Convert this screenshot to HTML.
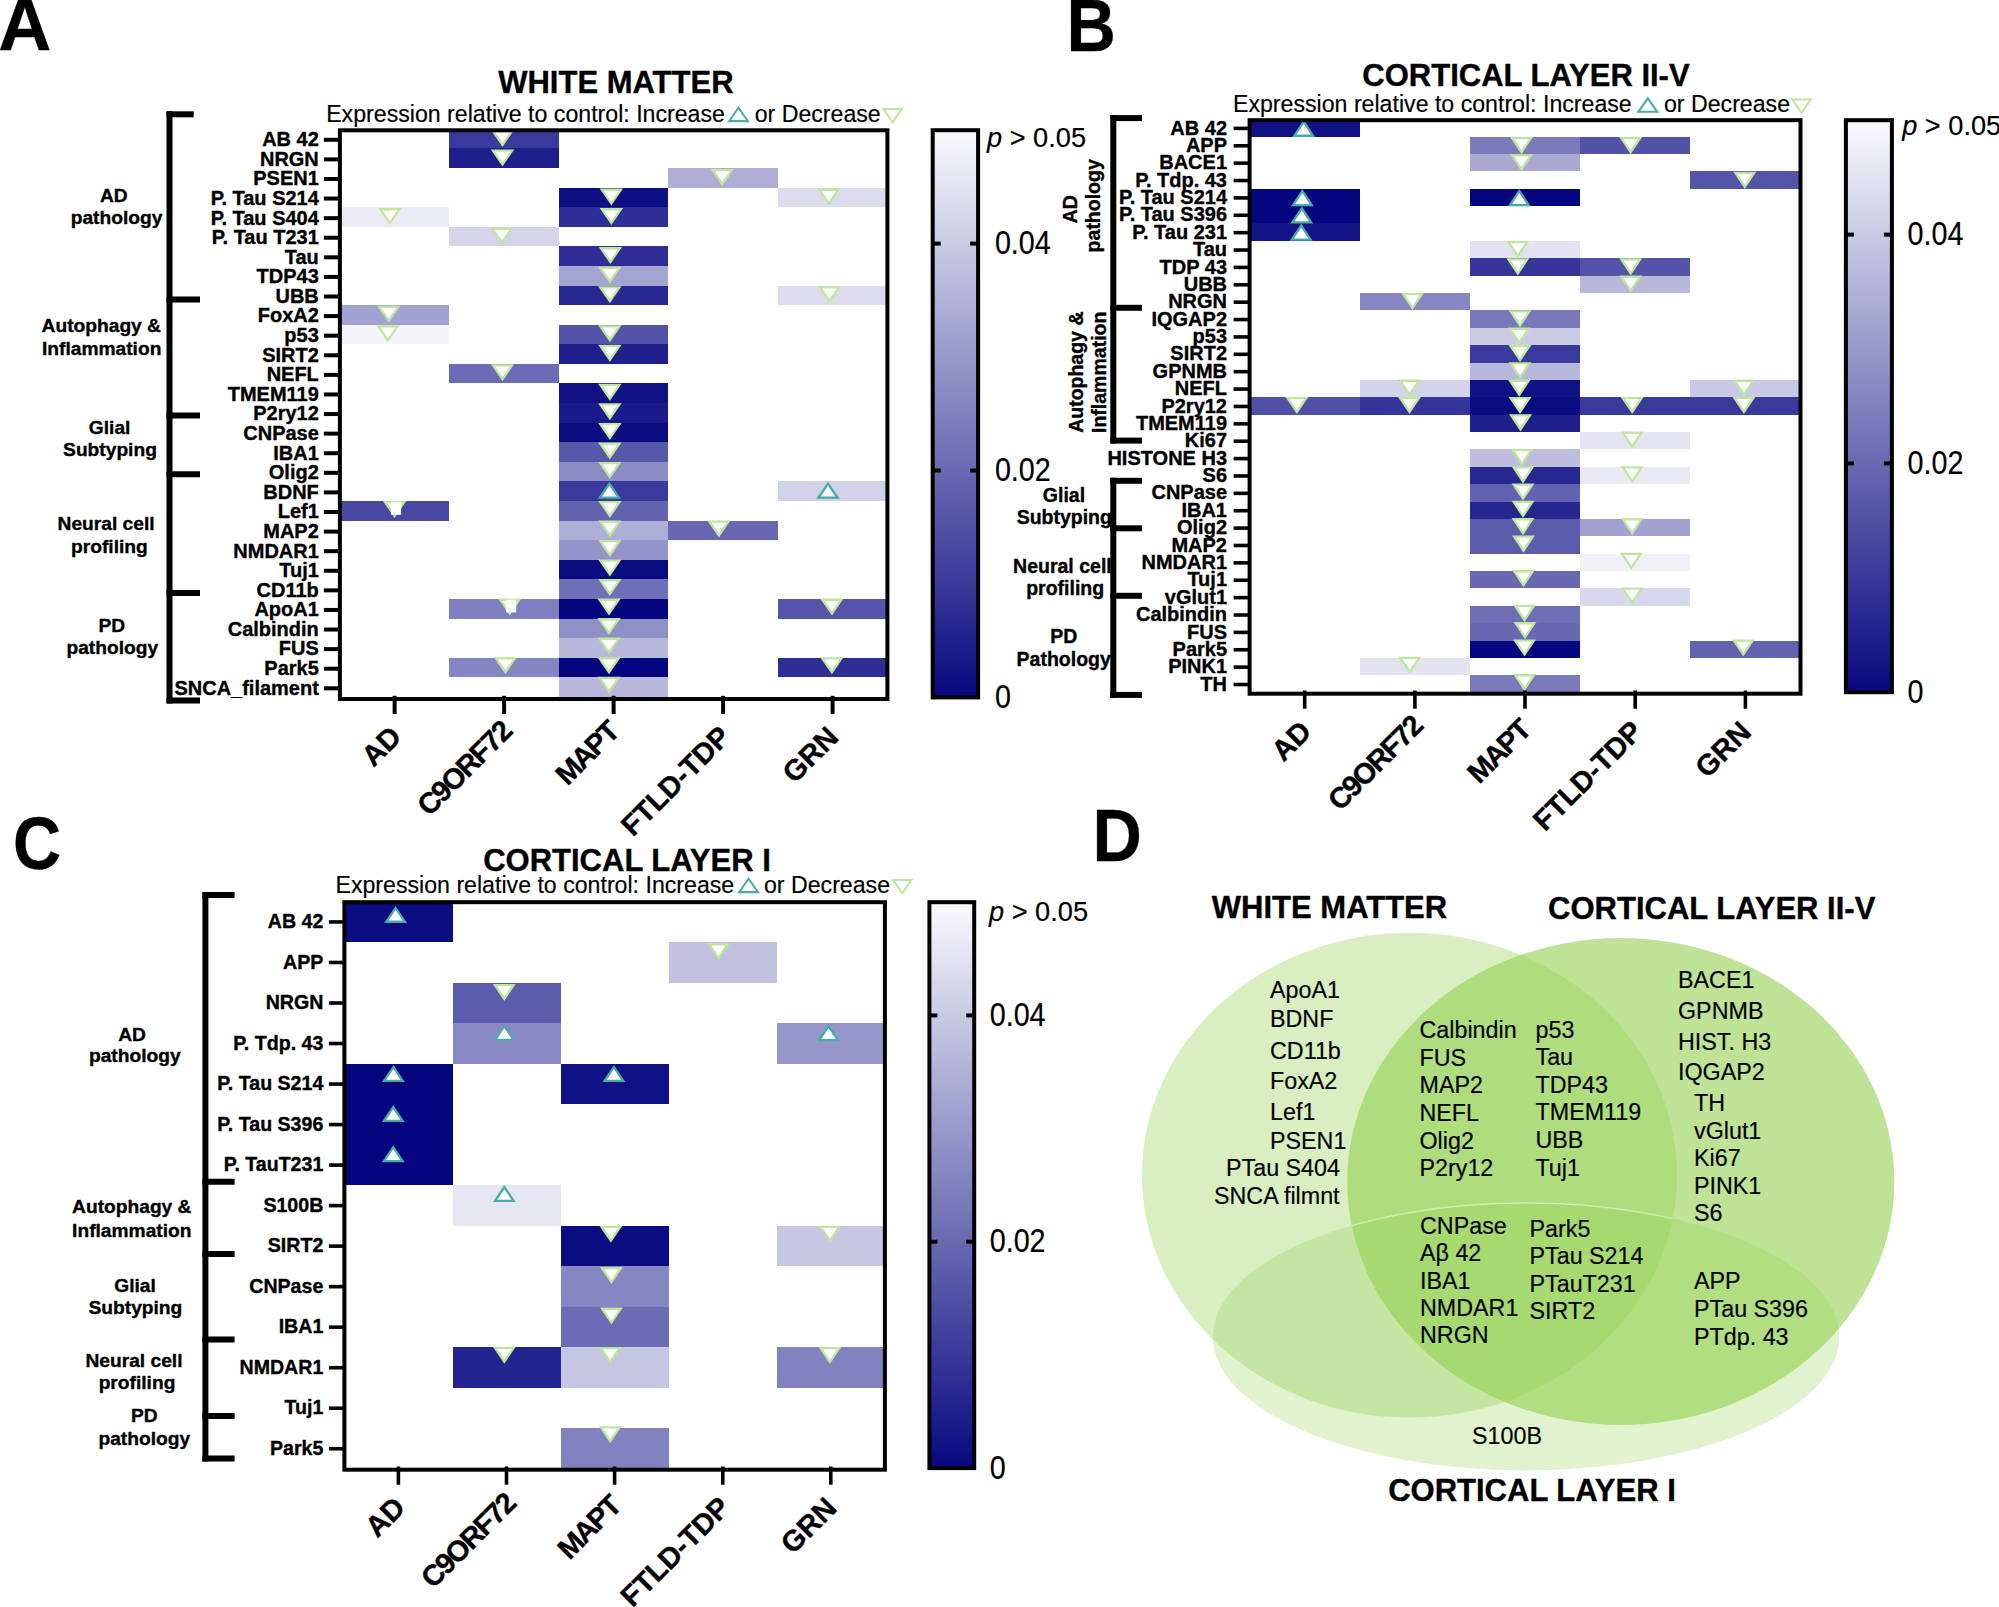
<!DOCTYPE html>
<html lang="en"><head><meta charset="utf-8"><title>Figure</title>
<style>html,body{margin:0;padding:0;background:#fff}svg{display:block}text{font-family:'Liberation Sans', Arial, sans-serif;fill:#000;stroke:#000;stroke-width:.18px;stroke-linejoin:round}text[font-weight=bold]{stroke-width:.36px}</style></head><body>
<svg width="1999" height="1607" viewBox="0 0 1999 1607">
<defs><linearGradient id="cm" x1="0" y1="0" x2="0" y2="1"><stop offset="0" stop-color="#fafafd"/><stop offset="1" stop-color="#080880"/></linearGradient></defs>
<rect width="1999" height="1607" fill="#fff"/>
<g>
<rect x="449.40" y="128.80" width="109.50" height="19.59" fill="#3a3a9c" shape-rendering="crispEdges"/>
<rect x="449.40" y="148.39" width="109.50" height="19.59" fill="#1f1f8b" shape-rendering="crispEdges"/>
<rect x="668.40" y="167.98" width="109.50" height="19.59" fill="#adadd6" shape-rendering="crispEdges"/>
<rect x="558.90" y="187.57" width="109.50" height="19.59" fill="#0f0f85" shape-rendering="crispEdges"/>
<rect x="777.90" y="187.57" width="109.50" height="19.59" fill="#dcdcee" shape-rendering="crispEdges"/>
<rect x="339.90" y="207.16" width="109.50" height="19.59" fill="#ebebf6" shape-rendering="crispEdges"/>
<rect x="558.90" y="207.16" width="109.50" height="19.59" fill="#2e2e96" shape-rendering="crispEdges"/>
<rect x="449.40" y="226.75" width="109.50" height="19.59" fill="#d5d5ea" shape-rendering="crispEdges"/>
<rect x="558.90" y="246.34" width="109.50" height="19.59" fill="#2e2e96" shape-rendering="crispEdges"/>
<rect x="558.90" y="265.93" width="109.50" height="19.59" fill="#a5a5d3" shape-rendering="crispEdges"/>
<rect x="558.90" y="285.52" width="109.50" height="19.59" fill="#282892" shape-rendering="crispEdges"/>
<rect x="777.90" y="285.52" width="109.50" height="19.59" fill="#dcdcee" shape-rendering="crispEdges"/>
<rect x="339.90" y="305.11" width="109.50" height="19.59" fill="#a2a2d2" shape-rendering="crispEdges"/>
<rect x="339.90" y="324.70" width="109.50" height="19.59" fill="#f4f4fa" shape-rendering="crispEdges"/>
<rect x="558.90" y="324.70" width="109.50" height="19.59" fill="#5353a8" shape-rendering="crispEdges"/>
<rect x="558.90" y="344.29" width="109.50" height="19.59" fill="#1f1f8b" shape-rendering="crispEdges"/>
<rect x="449.40" y="363.88" width="109.50" height="19.59" fill="#6c6cb6" shape-rendering="crispEdges"/>
<rect x="558.90" y="383.47" width="109.50" height="19.59" fill="#111186" shape-rendering="crispEdges"/>
<rect x="558.90" y="403.06" width="109.50" height="19.59" fill="#1a1a8c" shape-rendering="crispEdges"/>
<rect x="558.90" y="422.64" width="109.50" height="19.59" fill="#0b0b82" shape-rendering="crispEdges"/>
<rect x="558.90" y="442.23" width="109.50" height="19.59" fill="#5858ab" shape-rendering="crispEdges"/>
<rect x="558.90" y="461.82" width="109.50" height="19.59" fill="#8b8bc5" shape-rendering="crispEdges"/>
<rect x="558.90" y="481.41" width="109.50" height="19.59" fill="#3a3a9c" shape-rendering="crispEdges"/>
<rect x="777.90" y="481.41" width="109.50" height="19.59" fill="#d2d2ea" shape-rendering="crispEdges"/>
<rect x="339.90" y="501.00" width="109.50" height="19.59" fill="#4848a3" shape-rendering="crispEdges"/>
<rect x="558.90" y="501.00" width="109.50" height="19.59" fill="#6262b1" shape-rendering="crispEdges"/>
<rect x="558.90" y="520.59" width="109.50" height="19.59" fill="#aeaed6" shape-rendering="crispEdges"/>
<rect x="668.40" y="520.59" width="109.50" height="19.59" fill="#6767b3" shape-rendering="crispEdges"/>
<rect x="558.90" y="540.18" width="109.50" height="19.59" fill="#9494ca" shape-rendering="crispEdges"/>
<rect x="558.90" y="559.77" width="109.50" height="19.59" fill="#0b0b82" shape-rendering="crispEdges"/>
<rect x="558.90" y="579.36" width="109.50" height="19.59" fill="#7070b8" shape-rendering="crispEdges"/>
<rect x="449.40" y="598.95" width="109.50" height="19.59" fill="#8080c0" shape-rendering="crispEdges"/>
<rect x="558.90" y="598.95" width="109.50" height="19.59" fill="#050580" shape-rendering="crispEdges"/>
<rect x="777.90" y="598.95" width="109.50" height="19.59" fill="#5454a9" shape-rendering="crispEdges"/>
<rect x="558.90" y="618.54" width="109.50" height="19.59" fill="#9090c8" shape-rendering="crispEdges"/>
<rect x="558.90" y="638.13" width="109.50" height="19.59" fill="#b8b8dc" shape-rendering="crispEdges"/>
<rect x="449.40" y="657.72" width="109.50" height="19.59" fill="#8585c3" shape-rendering="crispEdges"/>
<rect x="558.90" y="657.72" width="109.50" height="19.59" fill="#050580" shape-rendering="crispEdges"/>
<rect x="777.90" y="657.72" width="109.50" height="19.59" fill="#2e2e96" shape-rendering="crispEdges"/>
<rect x="558.90" y="677.31" width="109.50" height="19.59" fill="#b8b8dc" shape-rendering="crispEdges"/>
<polygon points="490.8,130.0 514.2,130.0 502.5,147.0" fill="#c0e69d"/><polygon points="495.2,132.3 509.9,132.3 502.5,142.9" fill="#fff"/>
<polygon points="490.8,149.5 514.2,149.5 502.5,166.5" fill="#c0e69d"/><polygon points="495.2,151.8 509.9,151.8 502.5,162.5" fill="#fff"/>
<polygon points="710.5,169.0 734.0,169.0 722.2,186.0" fill="#c0e69d"/><polygon points="714.9,171.3 729.6,171.3 722.2,182.0" fill="#fff"/>
<polygon points="599.6,188.6 623.1,188.6 611.4,205.6" fill="#c0e69d"/><polygon points="604.0,190.9 618.7,190.9 611.4,201.5" fill="#fff"/>
<polygon points="817.2,188.6 840.6,188.6 828.9,205.6" fill="#c0e69d"/><polygon points="821.6,190.9 836.3,190.9 828.9,201.5" fill="#fff"/>
<polygon points="378.2,208.1 401.6,208.1 389.9,225.1" fill="#c0e69d"/><polygon points="382.6,210.4 397.3,210.4 389.9,221.0" fill="#fff"/>
<polygon points="599.6,208.1 623.1,208.1 611.4,225.1" fill="#c0e69d"/><polygon points="604.0,210.4 618.7,210.4 611.4,221.0" fill="#fff"/>
<polygon points="490.2,227.6 513.6,227.6 501.9,244.6" fill="#c0e69d"/><polygon points="494.6,229.9 509.3,229.9 501.9,240.6" fill="#fff"/>
<polygon points="598.7,247.1 622.1,247.1 610.4,264.1" fill="#c0e69d"/><polygon points="603.1,249.4 617.8,249.4 610.4,260.1" fill="#fff"/>
<polygon points="598.1,266.7 621.6,266.7 609.9,283.7" fill="#c0e69d"/><polygon points="602.5,269.0 617.2,269.0 609.9,279.6" fill="#fff"/>
<polygon points="598.1,286.2 621.6,286.2 609.9,303.2" fill="#c0e69d"/><polygon points="602.5,288.5 617.2,288.5 609.9,299.1" fill="#fff"/>
<polygon points="817.8,286.2 841.2,286.2 829.5,303.2" fill="#c0e69d"/><polygon points="822.2,288.5 836.9,288.5 829.5,299.1" fill="#fff"/>
<polygon points="377.1,305.7 400.4,305.7 388.8,322.7" fill="#c0e69d"/><polygon points="381.4,308.0 396.1,308.0 388.8,318.7" fill="#fff"/>
<polygon points="376.2,325.2 399.6,325.2 387.9,342.2" fill="#c0e69d"/><polygon points="380.6,327.5 395.3,327.5 387.9,338.2" fill="#fff"/>
<polygon points="598.1,325.2 621.6,325.2 609.9,342.2" fill="#c0e69d"/><polygon points="602.5,327.5 617.2,327.5 609.9,338.2" fill="#fff"/>
<polygon points="598.1,344.8 621.6,344.8 609.9,361.8" fill="#c0e69d"/><polygon points="602.5,347.1 617.2,347.1 609.9,357.7" fill="#fff"/>
<polygon points="490.8,364.3 514.2,364.3 502.5,381.3" fill="#c0e69d"/><polygon points="495.2,366.6 509.9,366.6 502.5,377.2" fill="#fff"/>
<polygon points="598.1,383.8 621.6,383.8 609.9,400.8" fill="#c0e69d"/><polygon points="602.5,386.1 617.2,386.1 609.9,396.8" fill="#fff"/>
<polygon points="598.1,403.3 621.6,403.3 609.9,420.3" fill="#c0e69d"/><polygon points="602.5,405.6 617.2,405.6 609.9,416.3" fill="#fff"/>
<polygon points="598.1,422.9 621.6,422.9 609.9,439.9" fill="#c0e69d"/><polygon points="602.5,425.2 617.2,425.2 609.9,435.8" fill="#fff"/>
<polygon points="598.1,442.4 621.6,442.4 609.9,459.4" fill="#c0e69d"/><polygon points="602.5,444.7 617.2,444.7 609.9,455.3" fill="#fff"/>
<polygon points="598.1,461.9 621.6,461.9 609.9,478.9" fill="#c0e69d"/><polygon points="602.5,464.2 617.2,464.2 609.9,474.9" fill="#fff"/>
<polygon points="597.6,498.7 621.1,498.7 609.4,481.7" fill="#47ada4"/><polygon points="602.0,496.4 616.7,496.4 609.4,485.8" fill="#fff"/>
<polygon points="816.3,498.7 839.8,498.7 828.0,481.7" fill="#47ada4"/><polygon points="820.7,496.4 835.4,496.4 828.0,485.8" fill="#fff"/>
<polygon points="382.9,501.0 406.3,501.0 394.6,518.0" fill="#c0e69d"/><polygon points="387.3,503.3 402.0,503.3 394.6,513.9" fill="#fff"/>
<rect x="391.1" y="502.2" width="10" height="12.6" fill="#fff"/>
<polygon points="598.1,501.0 621.6,501.0 609.9,518.0" fill="#c0e69d"/><polygon points="602.5,503.3 617.2,503.3 609.9,513.9" fill="#fff"/>
<polygon points="598.1,520.5 621.6,520.5 609.9,537.5" fill="#c0e69d"/><polygon points="602.5,522.8 617.2,522.8 609.9,533.4" fill="#fff"/>
<polygon points="707.1,520.5 730.6,520.5 718.9,537.5" fill="#c0e69d"/><polygon points="711.5,522.8 726.2,522.8 718.9,533.4" fill="#fff"/>
<polygon points="598.1,540.0 621.6,540.0 609.9,557.0" fill="#c0e69d"/><polygon points="602.5,542.3 617.2,542.3 609.9,553.0" fill="#fff"/>
<polygon points="598.1,559.5 621.6,559.5 609.9,576.5" fill="#c0e69d"/><polygon points="602.5,561.8 617.2,561.8 609.9,572.5" fill="#fff"/>
<polygon points="598.1,579.1 621.6,579.1 609.9,596.1" fill="#c0e69d"/><polygon points="602.5,581.4 617.2,581.4 609.9,592.0" fill="#fff"/>
<polygon points="498.1,598.6 521.5,598.6 509.8,615.6" fill="#c0e69d"/><polygon points="502.4,600.9 517.1,600.9 509.8,611.5" fill="#fff"/>
<rect x="506.2" y="599.8" width="10" height="12.6" fill="#fff"/>
<polygon points="597.3,598.6 620.8,598.6 609.0,615.6" fill="#c0e69d"/><polygon points="601.7,600.9 616.4,600.9 609.0,611.5" fill="#fff"/>
<polygon points="820.1,598.6 843.6,598.6 831.9,615.6" fill="#c0e69d"/><polygon points="824.5,600.9 839.2,600.9 831.9,611.5" fill="#fff"/>
<polygon points="597.3,618.1 620.8,618.1 609.0,635.1" fill="#c0e69d"/><polygon points="601.7,620.4 616.4,620.4 609.0,631.1" fill="#fff"/>
<polygon points="597.3,637.6 620.8,637.6 609.0,654.6" fill="#c0e69d"/><polygon points="601.7,639.9 616.4,639.9 609.0,650.6" fill="#fff"/>
<polygon points="493.8,657.2 517.1,657.2 505.4,674.2" fill="#c0e69d"/><polygon points="498.1,659.5 512.8,659.5 505.4,670.1" fill="#fff"/>
<polygon points="597.3,657.2 620.8,657.2 609.0,674.2" fill="#c0e69d"/><polygon points="601.7,659.5 616.4,659.5 609.0,670.1" fill="#fff"/>
<polygon points="820.1,657.2 843.6,657.2 831.9,674.2" fill="#c0e69d"/><polygon points="824.5,659.5 839.2,659.5 831.9,670.1" fill="#fff"/>
<polygon points="597.3,676.7 620.8,676.7 609.0,693.7" fill="#c0e69d"/><polygon points="601.7,679.0 616.4,679.0 609.0,689.6" fill="#fff"/>
<rect x="339.9" y="130.3" width="547.5" height="568.7" fill="none" stroke="#000" stroke-width="4"/>
<line x1="323.9" y1="139.79" x2="339.9" y2="139.79" stroke="#000" stroke-width="4"/>
<text transform="translate(318.8,146.1) scale(1,1.045)" font-size="20" font-weight="bold" text-anchor="end">AB 42</text>
<line x1="323.9" y1="159.38" x2="339.9" y2="159.38" stroke="#000" stroke-width="4"/>
<text transform="translate(318.8,165.7) scale(1,1.045)" font-size="20" font-weight="bold" text-anchor="end">NRGN</text>
<line x1="323.9" y1="178.97" x2="339.9" y2="178.97" stroke="#000" stroke-width="4"/>
<text transform="translate(318.8,185.3) scale(1,1.045)" font-size="20" font-weight="bold" text-anchor="end">PSEN1</text>
<line x1="323.9" y1="198.56" x2="339.9" y2="198.56" stroke="#000" stroke-width="4"/>
<text transform="translate(318.8,204.9) scale(1,1.045)" font-size="20" font-weight="bold" text-anchor="end">P. Tau S214</text>
<line x1="323.9" y1="218.15" x2="339.9" y2="218.15" stroke="#000" stroke-width="4"/>
<text transform="translate(318.8,224.5) scale(1,1.045)" font-size="20" font-weight="bold" text-anchor="end">P. Tau S404</text>
<line x1="323.9" y1="237.74" x2="339.9" y2="237.74" stroke="#000" stroke-width="4"/>
<text transform="translate(318.8,244.0) scale(1,1.045)" font-size="20" font-weight="bold" text-anchor="end">P. Tau T231</text>
<line x1="323.9" y1="257.33" x2="339.9" y2="257.33" stroke="#000" stroke-width="4"/>
<text transform="translate(318.8,263.6) scale(1,1.045)" font-size="20" font-weight="bold" text-anchor="end">Tau</text>
<line x1="323.9" y1="276.92" x2="339.9" y2="276.92" stroke="#000" stroke-width="4"/>
<text transform="translate(318.8,283.2) scale(1,1.045)" font-size="20" font-weight="bold" text-anchor="end">TDP43</text>
<line x1="323.9" y1="296.51" x2="339.9" y2="296.51" stroke="#000" stroke-width="4"/>
<text transform="translate(318.8,302.8) scale(1,1.045)" font-size="20" font-weight="bold" text-anchor="end">UBB</text>
<line x1="323.9" y1="316.10" x2="339.9" y2="316.10" stroke="#000" stroke-width="4"/>
<text transform="translate(318.8,322.4) scale(1,1.045)" font-size="20" font-weight="bold" text-anchor="end">FoxA2</text>
<line x1="323.9" y1="335.69" x2="339.9" y2="335.69" stroke="#000" stroke-width="4"/>
<text transform="translate(318.8,342.0) scale(1,1.045)" font-size="20" font-weight="bold" text-anchor="end">p53</text>
<line x1="323.9" y1="355.28" x2="339.9" y2="355.28" stroke="#000" stroke-width="4"/>
<text transform="translate(318.8,361.6) scale(1,1.045)" font-size="20" font-weight="bold" text-anchor="end">SIRT2</text>
<line x1="323.9" y1="374.87" x2="339.9" y2="374.87" stroke="#000" stroke-width="4"/>
<text transform="translate(318.8,381.2) scale(1,1.045)" font-size="20" font-weight="bold" text-anchor="end">NEFL</text>
<line x1="323.9" y1="394.46" x2="339.9" y2="394.46" stroke="#000" stroke-width="4"/>
<text transform="translate(318.8,400.8) scale(1,1.045)" font-size="20" font-weight="bold" text-anchor="end">TMEM119</text>
<line x1="323.9" y1="414.05" x2="339.9" y2="414.05" stroke="#000" stroke-width="4"/>
<text transform="translate(318.8,420.3) scale(1,1.045)" font-size="20" font-weight="bold" text-anchor="end">P2ry12</text>
<line x1="323.9" y1="433.64" x2="339.9" y2="433.64" stroke="#000" stroke-width="4"/>
<text transform="translate(318.8,439.9) scale(1,1.045)" font-size="20" font-weight="bold" text-anchor="end">CNPase</text>
<line x1="323.9" y1="453.23" x2="339.9" y2="453.23" stroke="#000" stroke-width="4"/>
<text transform="translate(318.8,459.5) scale(1,1.045)" font-size="20" font-weight="bold" text-anchor="end">IBA1</text>
<line x1="323.9" y1="472.82" x2="339.9" y2="472.82" stroke="#000" stroke-width="4"/>
<text transform="translate(318.8,479.1) scale(1,1.045)" font-size="20" font-weight="bold" text-anchor="end">Olig2</text>
<line x1="323.9" y1="492.41" x2="339.9" y2="492.41" stroke="#000" stroke-width="4"/>
<text transform="translate(318.8,498.7) scale(1,1.045)" font-size="20" font-weight="bold" text-anchor="end">BDNF</text>
<line x1="323.9" y1="512.00" x2="339.9" y2="512.00" stroke="#000" stroke-width="4"/>
<text transform="translate(318.8,518.3) scale(1,1.045)" font-size="20" font-weight="bold" text-anchor="end">Lef1</text>
<line x1="323.9" y1="531.59" x2="339.9" y2="531.59" stroke="#000" stroke-width="4"/>
<text transform="translate(318.8,537.9) scale(1,1.045)" font-size="20" font-weight="bold" text-anchor="end">MAP2</text>
<line x1="323.9" y1="551.18" x2="339.9" y2="551.18" stroke="#000" stroke-width="4"/>
<text transform="translate(318.8,557.5) scale(1,1.045)" font-size="20" font-weight="bold" text-anchor="end">NMDAR1</text>
<line x1="323.9" y1="570.77" x2="339.9" y2="570.77" stroke="#000" stroke-width="4"/>
<text transform="translate(318.8,577.1) scale(1,1.045)" font-size="20" font-weight="bold" text-anchor="end">Tuj1</text>
<line x1="323.9" y1="590.36" x2="339.9" y2="590.36" stroke="#000" stroke-width="4"/>
<text transform="translate(318.8,596.7) scale(1,1.045)" font-size="20" font-weight="bold" text-anchor="end">CD11b</text>
<line x1="323.9" y1="609.95" x2="339.9" y2="609.95" stroke="#000" stroke-width="4"/>
<text transform="translate(318.8,616.2) scale(1,1.045)" font-size="20" font-weight="bold" text-anchor="end">ApoA1</text>
<line x1="323.9" y1="629.54" x2="339.9" y2="629.54" stroke="#000" stroke-width="4"/>
<text transform="translate(318.8,635.8) scale(1,1.045)" font-size="20" font-weight="bold" text-anchor="end">Calbindin</text>
<line x1="323.9" y1="649.13" x2="339.9" y2="649.13" stroke="#000" stroke-width="4"/>
<text transform="translate(318.8,655.4) scale(1,1.045)" font-size="20" font-weight="bold" text-anchor="end">FUS</text>
<line x1="323.9" y1="668.72" x2="339.9" y2="668.72" stroke="#000" stroke-width="4"/>
<text transform="translate(318.8,675.0) scale(1,1.045)" font-size="20" font-weight="bold" text-anchor="end">Park5</text>
<line x1="323.9" y1="688.31" x2="339.9" y2="688.31" stroke="#000" stroke-width="4"/>
<text transform="translate(318.8,694.6) scale(1,1.045)" font-size="20" font-weight="bold" text-anchor="end">SNCA_filament</text>
<line x1="394.6" y1="695.8" x2="394.6" y2="714.0" stroke="#000" stroke-width="4"/>
<text transform="translate(403.0,738.5) rotate(-45)" font-size="29" font-weight="bold" text-anchor="end" letter-spacing="0">AD</text>
<line x1="504.1" y1="695.8" x2="504.1" y2="714.0" stroke="#000" stroke-width="4"/>
<text transform="translate(513.1,733.4) rotate(-45)" font-size="29" font-weight="bold" text-anchor="end" letter-spacing="-1.7">C9ORF72</text>
<line x1="613.6" y1="695.8" x2="613.6" y2="714.0" stroke="#000" stroke-width="4"/>
<text transform="translate(620.1,733.8) rotate(-45)" font-size="29" font-weight="bold" text-anchor="end" letter-spacing="-1.9">MAPT</text>
<line x1="723.1" y1="695.8" x2="723.1" y2="714.0" stroke="#000" stroke-width="4"/>
<text transform="translate(732.0,738.5) rotate(-45)" font-size="29" font-weight="bold" text-anchor="end" letter-spacing="-0.2">FTLD-TDP</text>
<line x1="832.6" y1="695.8" x2="832.6" y2="714.0" stroke="#000" stroke-width="4"/>
<text transform="translate(840.1,739.0) rotate(-45)" font-size="29" font-weight="bold" text-anchor="end" letter-spacing="0">GRN</text>
<line x1="169.5" y1="111.3" x2="169.5" y2="703.5" stroke="#000" stroke-width="6"/>
<line x1="166.5" y1="114.3" x2="193.7" y2="114.3" stroke="#000" stroke-width="6"/>
<line x1="166.5" y1="299.5" x2="200.0" y2="299.5" stroke="#000" stroke-width="6"/>
<line x1="166.5" y1="415.6" x2="200.0" y2="415.6" stroke="#000" stroke-width="6"/>
<line x1="166.5" y1="474.2" x2="200.0" y2="474.2" stroke="#000" stroke-width="6"/>
<line x1="166.5" y1="593.1" x2="200.0" y2="593.1" stroke="#000" stroke-width="6"/>
<line x1="166.5" y1="700.5" x2="200.0" y2="700.5" stroke="#000" stroke-width="6"/>
<rect x="932.7" y="130.2" width="45.4" height="567.2" fill="url(#cm)" stroke="#000" stroke-width="4"/>
<line x1="932.7" y1="243.6" x2="940.7" y2="243.6" stroke="#000" stroke-width="4"/>
<line x1="970.1" y1="243.6" x2="978.1" y2="243.6" stroke="#000" stroke-width="4"/>
<text transform="translate(994.9,254.0) scale(0.87,1)" font-size="33">0.04</text>
<line x1="932.7" y1="470.5" x2="940.7" y2="470.5" stroke="#000" stroke-width="4"/>
<line x1="970.1" y1="470.5" x2="978.1" y2="470.5" stroke="#000" stroke-width="4"/>
<text transform="translate(994.9,480.9) scale(0.87,1)" font-size="33">0.02</text>
<text transform="translate(994.9,707.8) scale(0.87,1)" font-size="33">0</text>
<text x="987.0" y="146.8" font-size="27.2"><tspan font-style="italic">p</tspan> &gt; 0.05</text>
<text x="615.9" y="92.9" font-size="31" font-weight="bold" text-anchor="middle" >WHITE MATTER</text>
<text x="326.2" y="121.6" font-size="23.15" font-weight="normal" text-anchor="start" >Expression relative to control: Increase</text>
<text x="754.7" y="121.6" font-size="23.15" font-weight="normal" text-anchor="start" >or Decrease</text>
<polygon points="727.1,122.2 749.9,122.2 738.5,105.9" fill="#47ada4"/><polygon points="731.1,120.1 745.9,120.1 738.5,109.6" fill="#fff"/>
<polygon points="881.5,107.9 903.7,107.9 892.6,124.1" fill="#c0e69d"/><polygon points="885.5,110.0 899.7,110.0 892.6,120.4" fill="#fff"/>
<text x="113.8" y="201.5" font-size="19.2" font-weight="bold" text-anchor="middle" >AD</text>
<text x="116.5" y="224.2" font-size="19.2" font-weight="bold" text-anchor="middle" >pathology</text>
<text x="101.3" y="331.5" font-size="19.2" font-weight="bold" text-anchor="middle" >Autophagy &amp;</text>
<text x="101.7" y="354.6" font-size="19.2" font-weight="bold" text-anchor="middle" >Inflammation</text>
<text x="109.6" y="433.7" font-size="19.2" font-weight="bold" text-anchor="middle" >Glial</text>
<text x="110.0" y="455.7" font-size="19.2" font-weight="bold" text-anchor="middle" >Subtyping</text>
<text x="106.1" y="530.2" font-size="19.2" font-weight="bold" text-anchor="middle" >Neural cell</text>
<text x="109.4" y="553.3" font-size="19.2" font-weight="bold" text-anchor="middle" >profiling</text>
<text x="111.9" y="631.7" font-size="19.2" font-weight="bold" text-anchor="middle" >PD</text>
<text x="112.3" y="654.4" font-size="19.2" font-weight="bold" text-anchor="middle" >pathology</text>
<text transform="translate(-1.8,49.8) scale(1,1)" font-size="73.5" font-weight="bold">A</text>
</g>
<g>
<rect x="1249.60" y="119.20" width="110.18" height="17.38" fill="#111186" shape-rendering="crispEdges"/>
<rect x="1469.96" y="136.58" width="110.18" height="17.38" fill="#7b7bbc" shape-rendering="crispEdges"/>
<rect x="1580.14" y="136.58" width="110.18" height="17.38" fill="#5252a8" shape-rendering="crispEdges"/>
<rect x="1469.96" y="153.96" width="110.18" height="17.38" fill="#a9a9d4" shape-rendering="crispEdges"/>
<rect x="1690.32" y="171.34" width="110.18" height="17.38" fill="#5454a9" shape-rendering="crispEdges"/>
<rect x="1249.60" y="188.72" width="110.18" height="17.38" fill="#050580" shape-rendering="crispEdges"/>
<rect x="1469.96" y="188.72" width="110.18" height="17.38" fill="#050580" shape-rendering="crispEdges"/>
<rect x="1249.60" y="206.09" width="110.18" height="17.38" fill="#050580" shape-rendering="crispEdges"/>
<rect x="1249.60" y="223.47" width="110.18" height="17.38" fill="#141488" shape-rendering="crispEdges"/>
<rect x="1469.96" y="240.85" width="110.18" height="17.38" fill="#e2e2f1" shape-rendering="crispEdges"/>
<rect x="1469.96" y="258.23" width="110.18" height="17.38" fill="#35359a" shape-rendering="crispEdges"/>
<rect x="1580.14" y="258.23" width="110.18" height="17.38" fill="#5353a9" shape-rendering="crispEdges"/>
<rect x="1580.14" y="275.61" width="110.18" height="17.38" fill="#b8b8dc" shape-rendering="crispEdges"/>
<rect x="1359.78" y="292.99" width="110.18" height="17.38" fill="#8686c3" shape-rendering="crispEdges"/>
<rect x="1469.96" y="310.37" width="110.18" height="17.38" fill="#7878ba" shape-rendering="crispEdges"/>
<rect x="1469.96" y="327.75" width="110.18" height="17.38" fill="#cbcbe6" shape-rendering="crispEdges"/>
<rect x="1469.96" y="345.12" width="110.18" height="17.38" fill="#3a3a9c" shape-rendering="crispEdges"/>
<rect x="1469.96" y="362.50" width="110.18" height="17.38" fill="#b8b8dc" shape-rendering="crispEdges"/>
<rect x="1359.78" y="379.88" width="110.18" height="17.38" fill="#d3d3ea" shape-rendering="crispEdges"/>
<rect x="1469.96" y="379.88" width="110.18" height="17.38" fill="#111186" shape-rendering="crispEdges"/>
<rect x="1690.32" y="379.88" width="110.18" height="17.38" fill="#c9c9e5" shape-rendering="crispEdges"/>
<rect x="1249.60" y="397.26" width="110.18" height="17.38" fill="#5050a7" shape-rendering="crispEdges"/>
<rect x="1359.78" y="397.26" width="110.18" height="17.38" fill="#35359a" shape-rendering="crispEdges"/>
<rect x="1469.96" y="397.26" width="110.18" height="17.38" fill="#0b0b82" shape-rendering="crispEdges"/>
<rect x="1580.14" y="397.26" width="110.18" height="17.38" fill="#3a3a9c" shape-rendering="crispEdges"/>
<rect x="1690.32" y="397.26" width="110.18" height="17.38" fill="#3a3a9c" shape-rendering="crispEdges"/>
<rect x="1469.96" y="414.64" width="110.18" height="17.38" fill="#1f1f8b" shape-rendering="crispEdges"/>
<rect x="1580.14" y="432.02" width="110.18" height="17.38" fill="#e4e4f2" shape-rendering="crispEdges"/>
<rect x="1469.96" y="449.40" width="110.18" height="17.38" fill="#bdbddd" shape-rendering="crispEdges"/>
<rect x="1469.96" y="466.78" width="110.18" height="17.38" fill="#282892" shape-rendering="crispEdges"/>
<rect x="1580.14" y="466.78" width="110.18" height="17.38" fill="#eaeaf5" shape-rendering="crispEdges"/>
<rect x="1469.96" y="484.15" width="110.18" height="17.38" fill="#6262b1" shape-rendering="crispEdges"/>
<rect x="1469.96" y="501.53" width="110.18" height="17.38" fill="#262690" shape-rendering="crispEdges"/>
<rect x="1469.96" y="518.91" width="110.18" height="17.38" fill="#5c5cad" shape-rendering="crispEdges"/>
<rect x="1580.14" y="518.91" width="110.18" height="17.38" fill="#a2a2d2" shape-rendering="crispEdges"/>
<rect x="1469.96" y="536.29" width="110.18" height="17.38" fill="#5c5cad" shape-rendering="crispEdges"/>
<rect x="1580.14" y="553.67" width="110.18" height="17.38" fill="#f0f0f8" shape-rendering="crispEdges"/>
<rect x="1469.96" y="571.05" width="110.18" height="17.38" fill="#6868b3" shape-rendering="crispEdges"/>
<rect x="1580.14" y="588.43" width="110.18" height="17.38" fill="#d8d8ec" shape-rendering="crispEdges"/>
<rect x="1469.96" y="605.81" width="110.18" height="17.38" fill="#6e6eb6" shape-rendering="crispEdges"/>
<rect x="1469.96" y="623.18" width="110.18" height="17.38" fill="#6868b3" shape-rendering="crispEdges"/>
<rect x="1469.96" y="640.56" width="110.18" height="17.38" fill="#050580" shape-rendering="crispEdges"/>
<rect x="1690.32" y="640.56" width="110.18" height="17.38" fill="#6262b1" shape-rendering="crispEdges"/>
<rect x="1359.78" y="657.94" width="110.18" height="17.38" fill="#e2e2f1" shape-rendering="crispEdges"/>
<rect x="1469.96" y="675.32" width="110.18" height="17.38" fill="#7b7bbc" shape-rendering="crispEdges"/>
<polygon points="1292.2,136.9 1315.2,136.9 1303.7,119.7" fill="#47ada4"/><polygon points="1296.5,134.6 1310.9,134.6 1303.7,123.8" fill="#fff"/>
<polygon points="1510.0,137.0 1533.0,137.0 1521.5,154.2" fill="#c0e69d"/><polygon points="1514.3,139.3 1528.6,139.3 1521.5,150.1" fill="#fff"/>
<polygon points="1619.2,137.0 1642.2,137.0 1630.7,154.2" fill="#c0e69d"/><polygon points="1623.5,139.3 1637.9,139.3 1630.7,150.1" fill="#fff"/>
<polygon points="1510.0,154.3 1533.0,154.3 1521.5,171.5" fill="#c0e69d"/><polygon points="1514.3,156.6 1528.6,156.6 1521.5,167.4" fill="#fff"/>
<polygon points="1733.3,171.7 1756.3,171.7 1744.8,188.9" fill="#c0e69d"/><polygon points="1737.6,174.0 1752.0,174.0 1744.8,184.7" fill="#fff"/>
<polygon points="1290.9,206.2 1313.9,206.2 1302.4,189.0" fill="#47ada4"/><polygon points="1295.2,203.9 1309.6,203.9 1302.4,193.1" fill="#fff"/>
<polygon points="1507.8,206.2 1530.8,206.2 1519.3,189.0" fill="#47ada4"/><polygon points="1512.2,203.9 1526.5,203.9 1519.3,193.1" fill="#fff"/>
<polygon points="1290.3,223.5 1313.3,223.5 1301.8,206.3" fill="#47ada4"/><polygon points="1294.6,221.2 1309.0,221.2 1301.8,210.5" fill="#fff"/>
<polygon points="1289.7,240.8 1312.7,240.8 1301.2,223.6" fill="#47ada4"/><polygon points="1294.0,238.5 1308.4,238.5 1301.2,227.8" fill="#fff"/>
<polygon points="1506.3,241.0 1529.3,241.0 1517.8,258.2" fill="#c0e69d"/><polygon points="1510.7,243.3 1525.0,243.3 1517.8,254.0" fill="#fff"/>
<polygon points="1506.3,258.3 1529.3,258.3 1517.8,275.5" fill="#c0e69d"/><polygon points="1510.7,260.6 1525.0,260.6 1517.8,271.4" fill="#fff"/>
<polygon points="1619.2,258.3 1642.2,258.3 1630.7,275.5" fill="#c0e69d"/><polygon points="1623.5,260.6 1637.9,260.6 1630.7,271.4" fill="#fff"/>
<polygon points="1619.2,275.6 1642.2,275.6 1630.7,292.8" fill="#c0e69d"/><polygon points="1623.5,277.9 1637.9,277.9 1630.7,288.7" fill="#fff"/>
<polygon points="1401.0,292.9 1424.0,292.9 1412.5,310.1" fill="#c0e69d"/><polygon points="1405.3,295.2 1419.7,295.2 1412.5,306.0" fill="#fff"/>
<polygon points="1508.5,310.3 1531.5,310.3 1520.0,327.5" fill="#c0e69d"/><polygon points="1512.8,312.6 1527.1,312.6 1520.0,323.3" fill="#fff"/>
<polygon points="1507.8,327.6 1530.8,327.6 1519.3,344.8" fill="#c0e69d"/><polygon points="1512.2,329.9 1526.5,329.9 1519.3,340.6" fill="#fff"/>
<polygon points="1508.5,344.9 1531.5,344.9 1520.0,362.1" fill="#c0e69d"/><polygon points="1512.8,347.2 1527.1,347.2 1520.0,358.0" fill="#fff"/>
<polygon points="1508.5,362.2 1531.5,362.2 1520.0,379.4" fill="#c0e69d"/><polygon points="1512.8,364.5 1527.1,364.5 1520.0,375.3" fill="#fff"/>
<polygon points="1398.0,379.6 1421.0,379.6 1409.5,396.8" fill="#c0e69d"/><polygon points="1402.3,381.9 1416.7,381.9 1409.5,392.6" fill="#fff"/>
<polygon points="1507.8,379.6 1530.8,379.6 1519.3,396.8" fill="#c0e69d"/><polygon points="1512.2,381.9 1526.5,381.9 1519.3,392.6" fill="#fff"/>
<polygon points="1732.4,379.6 1755.4,379.6 1743.9,396.8" fill="#c0e69d"/><polygon points="1736.7,381.9 1751.1,381.9 1743.9,392.6" fill="#fff"/>
<polygon points="1285.4,396.9 1308.4,396.9 1296.9,414.1" fill="#c0e69d"/><polygon points="1289.7,399.2 1304.1,399.2 1296.9,409.9" fill="#fff"/>
<polygon points="1398.0,396.9 1421.0,396.9 1409.5,414.1" fill="#c0e69d"/><polygon points="1402.3,399.2 1416.7,399.2 1409.5,409.9" fill="#fff"/>
<polygon points="1508.5,396.9 1531.5,396.9 1520.0,414.1" fill="#c0e69d"/><polygon points="1512.8,399.2 1527.1,399.2 1520.0,409.9" fill="#fff"/>
<polygon points="1620.7,396.9 1643.7,396.9 1632.2,414.1" fill="#c0e69d"/><polygon points="1625.0,399.2 1639.4,399.2 1632.2,409.9" fill="#fff"/>
<polygon points="1732.4,396.9 1755.4,396.9 1743.9,414.1" fill="#c0e69d"/><polygon points="1736.7,399.2 1751.1,399.2 1743.9,409.9" fill="#fff"/>
<polygon points="1509.0,414.2 1532.0,414.2 1520.5,431.4" fill="#c0e69d"/><polygon points="1513.4,416.5 1527.7,416.5 1520.5,427.3" fill="#fff"/>
<polygon points="1620.7,431.5 1643.7,431.5 1632.2,448.7" fill="#c0e69d"/><polygon points="1625.0,433.8 1639.4,433.8 1632.2,444.6" fill="#fff"/>
<polygon points="1510.5,448.9 1533.5,448.9 1522.0,466.1" fill="#c0e69d"/><polygon points="1514.9,451.2 1529.2,451.2 1522.0,461.9" fill="#fff"/>
<polygon points="1511.5,466.2 1534.5,466.2 1523.0,483.4" fill="#c0e69d"/><polygon points="1515.8,468.5 1530.1,468.5 1523.0,479.2" fill="#fff"/>
<polygon points="1620.7,466.2 1643.7,466.2 1632.2,483.4" fill="#c0e69d"/><polygon points="1625.0,468.5 1639.4,468.5 1632.2,479.2" fill="#fff"/>
<polygon points="1511.5,483.5 1534.5,483.5 1523.0,500.7" fill="#c0e69d"/><polygon points="1515.8,485.8 1530.1,485.8 1523.0,496.6" fill="#fff"/>
<polygon points="1511.5,500.8 1534.5,500.8 1523.0,518.0" fill="#c0e69d"/><polygon points="1515.8,503.1 1530.1,503.1 1523.0,513.9" fill="#fff"/>
<polygon points="1511.5,518.1 1534.5,518.1 1523.0,535.3" fill="#c0e69d"/><polygon points="1515.8,520.4 1530.1,520.4 1523.0,531.2" fill="#fff"/>
<polygon points="1620.7,518.1 1643.7,518.1 1632.2,535.3" fill="#c0e69d"/><polygon points="1625.0,520.4 1639.4,520.4 1632.2,531.2" fill="#fff"/>
<polygon points="1512.0,535.5 1535.0,535.5 1523.5,552.7" fill="#c0e69d"/><polygon points="1516.4,537.8 1530.7,537.8 1523.5,548.5" fill="#fff"/>
<polygon points="1619.8,552.8 1642.8,552.8 1631.3,570.0" fill="#c0e69d"/><polygon points="1624.1,555.1 1638.5,555.1 1631.3,565.9" fill="#fff"/>
<polygon points="1512.0,570.1 1535.0,570.1 1523.5,587.3" fill="#c0e69d"/><polygon points="1516.4,572.4 1530.7,572.4 1523.5,583.2" fill="#fff"/>
<polygon points="1620.7,587.4 1643.7,587.4 1632.2,604.6" fill="#c0e69d"/><polygon points="1625.0,589.7 1639.4,589.7 1632.2,600.5" fill="#fff"/>
<polygon points="1513.0,604.8 1536.0,604.8 1524.5,622.0" fill="#c0e69d"/><polygon points="1517.3,607.1 1531.6,607.1 1524.5,617.8" fill="#fff"/>
<polygon points="1513.5,622.1 1536.5,622.1 1525.0,639.3" fill="#c0e69d"/><polygon points="1517.9,624.4 1532.2,624.4 1525.0,635.2" fill="#fff"/>
<polygon points="1513.0,639.4 1536.0,639.4 1524.5,656.6" fill="#c0e69d"/><polygon points="1517.3,641.7 1531.6,641.7 1524.5,652.5" fill="#fff"/>
<polygon points="1731.8,639.4 1754.8,639.4 1743.3,656.6" fill="#c0e69d"/><polygon points="1736.1,641.7 1750.5,641.7 1743.3,652.5" fill="#fff"/>
<polygon points="1398.3,656.7 1421.3,656.7 1409.8,673.9" fill="#c0e69d"/><polygon points="1402.6,659.0 1417.0,659.0 1409.8,669.8" fill="#fff"/>
<polygon points="1513.0,674.1 1536.0,674.1 1524.5,691.3" fill="#c0e69d"/><polygon points="1517.3,676.4 1531.6,676.4 1524.5,687.1" fill="#fff"/>
<rect x="1249.6" y="120.2" width="550.9" height="573.5" fill="none" stroke="#000" stroke-width="4"/>
<line x1="1233.6" y1="128.39" x2="1249.6" y2="128.39" stroke="#000" stroke-width="3.6"/>
<text transform="translate(1227.0,134.5) scale(1,1.045)" font-size="20" font-weight="bold" text-anchor="end">AB 42</text>
<line x1="1233.6" y1="145.77" x2="1249.6" y2="145.77" stroke="#000" stroke-width="3.6"/>
<text transform="translate(1227.0,151.9) scale(1,1.045)" font-size="20" font-weight="bold" text-anchor="end">APP</text>
<line x1="1233.6" y1="163.15" x2="1249.6" y2="163.15" stroke="#000" stroke-width="3.6"/>
<text transform="translate(1227.0,169.2) scale(1,1.045)" font-size="20" font-weight="bold" text-anchor="end">BACE1</text>
<line x1="1233.6" y1="180.53" x2="1249.6" y2="180.53" stroke="#000" stroke-width="3.6"/>
<text transform="translate(1227.0,186.6) scale(1,1.045)" font-size="20" font-weight="bold" text-anchor="end">P. Tdp. 43</text>
<line x1="1233.6" y1="197.90" x2="1249.6" y2="197.90" stroke="#000" stroke-width="3.6"/>
<text transform="translate(1227.0,204.0) scale(1,1.045)" font-size="20" font-weight="bold" text-anchor="end">P. Tau S214</text>
<line x1="1233.6" y1="215.28" x2="1249.6" y2="215.28" stroke="#000" stroke-width="3.6"/>
<text transform="translate(1227.0,221.4) scale(1,1.045)" font-size="20" font-weight="bold" text-anchor="end">P. Tau S396</text>
<line x1="1233.6" y1="232.66" x2="1249.6" y2="232.66" stroke="#000" stroke-width="3.6"/>
<text transform="translate(1227.0,238.8) scale(1,1.045)" font-size="20" font-weight="bold" text-anchor="end">P. Tau 231</text>
<line x1="1233.6" y1="250.04" x2="1249.6" y2="250.04" stroke="#000" stroke-width="3.6"/>
<text transform="translate(1227.0,256.1) scale(1,1.045)" font-size="20" font-weight="bold" text-anchor="end">Tau</text>
<line x1="1233.6" y1="267.42" x2="1249.6" y2="267.42" stroke="#000" stroke-width="3.6"/>
<text transform="translate(1227.0,273.5) scale(1,1.045)" font-size="20" font-weight="bold" text-anchor="end">TDP 43</text>
<line x1="1233.6" y1="284.80" x2="1249.6" y2="284.80" stroke="#000" stroke-width="3.6"/>
<text transform="translate(1227.0,290.9) scale(1,1.045)" font-size="20" font-weight="bold" text-anchor="end">UBB</text>
<line x1="1233.6" y1="302.18" x2="1249.6" y2="302.18" stroke="#000" stroke-width="3.6"/>
<text transform="translate(1227.0,308.3) scale(1,1.045)" font-size="20" font-weight="bold" text-anchor="end">NRGN</text>
<line x1="1233.6" y1="319.56" x2="1249.6" y2="319.56" stroke="#000" stroke-width="3.6"/>
<text transform="translate(1227.0,325.7) scale(1,1.045)" font-size="20" font-weight="bold" text-anchor="end">IQGAP2</text>
<line x1="1233.6" y1="336.93" x2="1249.6" y2="336.93" stroke="#000" stroke-width="3.6"/>
<text transform="translate(1227.0,343.0) scale(1,1.045)" font-size="20" font-weight="bold" text-anchor="end">p53</text>
<line x1="1233.6" y1="354.31" x2="1249.6" y2="354.31" stroke="#000" stroke-width="3.6"/>
<text transform="translate(1227.0,360.4) scale(1,1.045)" font-size="20" font-weight="bold" text-anchor="end">SIRT2</text>
<line x1="1233.6" y1="371.69" x2="1249.6" y2="371.69" stroke="#000" stroke-width="3.6"/>
<text transform="translate(1227.0,377.8) scale(1,1.045)" font-size="20" font-weight="bold" text-anchor="end">GPNMB</text>
<line x1="1233.6" y1="389.07" x2="1249.6" y2="389.07" stroke="#000" stroke-width="3.6"/>
<text transform="translate(1227.0,395.2) scale(1,1.045)" font-size="20" font-weight="bold" text-anchor="end">NEFL</text>
<line x1="1233.6" y1="406.45" x2="1249.6" y2="406.45" stroke="#000" stroke-width="3.6"/>
<text transform="translate(1227.0,412.6) scale(1,1.045)" font-size="20" font-weight="bold" text-anchor="end">P2ry12</text>
<line x1="1233.6" y1="423.83" x2="1249.6" y2="423.83" stroke="#000" stroke-width="3.6"/>
<text transform="translate(1227.0,429.9) scale(1,1.045)" font-size="20" font-weight="bold" text-anchor="end">TMEM119</text>
<line x1="1233.6" y1="441.21" x2="1249.6" y2="441.21" stroke="#000" stroke-width="3.6"/>
<text transform="translate(1227.0,447.3) scale(1,1.045)" font-size="20" font-weight="bold" text-anchor="end">Ki67</text>
<line x1="1233.6" y1="458.59" x2="1249.6" y2="458.59" stroke="#000" stroke-width="3.6"/>
<text transform="translate(1227.0,464.7) scale(1,1.045)" font-size="20" font-weight="bold" text-anchor="end">HISTONE H3</text>
<line x1="1233.6" y1="475.97" x2="1249.6" y2="475.97" stroke="#000" stroke-width="3.6"/>
<text transform="translate(1227.0,482.1) scale(1,1.045)" font-size="20" font-weight="bold" text-anchor="end">S6</text>
<line x1="1233.6" y1="493.34" x2="1249.6" y2="493.34" stroke="#000" stroke-width="3.6"/>
<text transform="translate(1227.0,499.4) scale(1,1.045)" font-size="20" font-weight="bold" text-anchor="end">CNPase</text>
<line x1="1233.6" y1="510.72" x2="1249.6" y2="510.72" stroke="#000" stroke-width="3.6"/>
<text transform="translate(1227.0,516.8) scale(1,1.045)" font-size="20" font-weight="bold" text-anchor="end">IBA1</text>
<line x1="1233.6" y1="528.10" x2="1249.6" y2="528.10" stroke="#000" stroke-width="3.6"/>
<text transform="translate(1227.0,534.2) scale(1,1.045)" font-size="20" font-weight="bold" text-anchor="end">Olig2</text>
<line x1="1233.6" y1="545.48" x2="1249.6" y2="545.48" stroke="#000" stroke-width="3.6"/>
<text transform="translate(1227.0,551.6) scale(1,1.045)" font-size="20" font-weight="bold" text-anchor="end">MAP2</text>
<line x1="1233.6" y1="562.86" x2="1249.6" y2="562.86" stroke="#000" stroke-width="3.6"/>
<text transform="translate(1227.0,569.0) scale(1,1.045)" font-size="20" font-weight="bold" text-anchor="end">NMDAR1</text>
<line x1="1233.6" y1="580.24" x2="1249.6" y2="580.24" stroke="#000" stroke-width="3.6"/>
<text transform="translate(1227.0,586.3) scale(1,1.045)" font-size="20" font-weight="bold" text-anchor="end">Tuj1</text>
<line x1="1233.6" y1="597.62" x2="1249.6" y2="597.62" stroke="#000" stroke-width="3.6"/>
<text transform="translate(1227.0,603.7) scale(1,1.045)" font-size="20" font-weight="bold" text-anchor="end">vGlut1</text>
<line x1="1233.6" y1="615.00" x2="1249.6" y2="615.00" stroke="#000" stroke-width="3.6"/>
<text transform="translate(1227.0,621.1) scale(1,1.045)" font-size="20" font-weight="bold" text-anchor="end">Calbindin</text>
<line x1="1233.6" y1="632.37" x2="1249.6" y2="632.37" stroke="#000" stroke-width="3.6"/>
<text transform="translate(1227.0,638.5) scale(1,1.045)" font-size="20" font-weight="bold" text-anchor="end">FUS</text>
<line x1="1233.6" y1="649.75" x2="1249.6" y2="649.75" stroke="#000" stroke-width="3.6"/>
<text transform="translate(1227.0,655.9) scale(1,1.045)" font-size="20" font-weight="bold" text-anchor="end">Park5</text>
<line x1="1233.6" y1="667.13" x2="1249.6" y2="667.13" stroke="#000" stroke-width="3.6"/>
<text transform="translate(1227.0,673.2) scale(1,1.045)" font-size="20" font-weight="bold" text-anchor="end">PINK1</text>
<line x1="1233.6" y1="684.51" x2="1249.6" y2="684.51" stroke="#000" stroke-width="3.6"/>
<text transform="translate(1227.0,690.6) scale(1,1.045)" font-size="20" font-weight="bold" text-anchor="end">TH</text>
<line x1="1304.7" y1="690.5" x2="1304.7" y2="708.7" stroke="#000" stroke-width="3.6"/>
<text transform="translate(1313.1,733.2) rotate(-45)" font-size="29" font-weight="bold" text-anchor="end" letter-spacing="0">AD</text>
<line x1="1414.9" y1="690.5" x2="1414.9" y2="708.7" stroke="#000" stroke-width="3.6"/>
<text transform="translate(1423.9,728.1) rotate(-45)" font-size="29" font-weight="bold" text-anchor="end" letter-spacing="-1.7">C9ORF72</text>
<line x1="1525.0" y1="690.5" x2="1525.0" y2="708.7" stroke="#000" stroke-width="3.6"/>
<text transform="translate(1532.0,732.0) rotate(-45)" font-size="29" font-weight="bold" text-anchor="end" letter-spacing="-1.9">MAPT</text>
<line x1="1635.2" y1="690.5" x2="1635.2" y2="708.7" stroke="#000" stroke-width="3.6"/>
<text transform="translate(1644.1,733.2) rotate(-45)" font-size="29" font-weight="bold" text-anchor="end" letter-spacing="-0.2">FTLD-TDP</text>
<line x1="1745.4" y1="690.5" x2="1745.4" y2="708.7" stroke="#000" stroke-width="3.6"/>
<text transform="translate(1752.9,733.7) rotate(-45)" font-size="29" font-weight="bold" text-anchor="end" letter-spacing="0">GRN</text>
<line x1="1113.3" y1="115.1" x2="1113.3" y2="443.6" stroke="#000" stroke-width="6"/>
<line x1="1110.3" y1="118.1" x2="1142.0" y2="118.1" stroke="#000" stroke-width="6"/>
<line x1="1110.3" y1="307.8" x2="1142.0" y2="307.8" stroke="#000" stroke-width="6"/>
<line x1="1110.3" y1="440.6" x2="1142.0" y2="440.6" stroke="#000" stroke-width="6"/>
<line x1="1113.3" y1="477.8" x2="1113.3" y2="697.9" stroke="#000" stroke-width="6"/>
<line x1="1110.3" y1="480.8" x2="1142.0" y2="480.8" stroke="#000" stroke-width="6"/>
<line x1="1110.3" y1="528.3" x2="1142.0" y2="528.3" stroke="#000" stroke-width="6"/>
<line x1="1110.3" y1="595.8" x2="1142.0" y2="595.8" stroke="#000" stroke-width="6"/>
<line x1="1110.3" y1="694.9" x2="1142.0" y2="694.9" stroke="#000" stroke-width="6"/>
<rect x="1845.9" y="120.2" width="46.0" height="572.0" fill="url(#cm)" stroke="#000" stroke-width="4"/>
<line x1="1845.9" y1="234.6" x2="1853.9" y2="234.6" stroke="#000" stroke-width="4"/>
<line x1="1883.9" y1="234.6" x2="1891.9" y2="234.6" stroke="#000" stroke-width="4"/>
<text transform="translate(1907.6,245.0) scale(0.87,1)" font-size="33">0.04</text>
<line x1="1845.9" y1="463.4" x2="1853.9" y2="463.4" stroke="#000" stroke-width="4"/>
<line x1="1883.9" y1="463.4" x2="1891.9" y2="463.4" stroke="#000" stroke-width="4"/>
<text transform="translate(1907.6,473.8) scale(0.87,1)" font-size="33">0.02</text>
<text transform="translate(1907.6,702.6) scale(0.87,1)" font-size="33">0</text>
<text x="1902.2" y="134.8" font-size="27.2"><tspan font-style="italic">p</tspan> &gt; 0.05</text>
<text x="1526.0" y="86.0" font-size="31" font-weight="bold" text-anchor="middle" >CORTICAL LAYER II-V</text>
<text x="1233.0" y="112.2" font-size="23.15" font-weight="normal" text-anchor="start" >Expression relative to control: Increase</text>
<text x="1664.0" y="112.2" font-size="23.15" font-weight="normal" text-anchor="start" >or Decrease</text>
<polygon points="1636.4,112.8 1659.2,112.8 1647.8,96.5" fill="#47ada4"/><polygon points="1640.4,110.7 1655.2,110.7 1647.8,100.2" fill="#fff"/>
<polygon points="1790.5,98.5 1812.7,98.5 1801.6,114.7" fill="#c0e69d"/><polygon points="1794.5,100.6 1808.7,100.6 1801.6,111.0" fill="#fff"/>
<text transform="translate(1077.0,209.2) rotate(-90)" font-size="19.5" font-weight="bold" text-anchor="middle">AD</text>
<text transform="translate(1100.3,205.8) rotate(-90)" font-size="19.5" font-weight="bold" text-anchor="middle">pathology</text>
<text transform="translate(1083.1,372.2) rotate(-90)" font-size="19.5" font-weight="bold" text-anchor="middle">Autophagy &amp;</text>
<text transform="translate(1106.0,372.3) rotate(-90)" font-size="19.5" font-weight="bold" text-anchor="middle">Inflammation</text>
<text x="1064.0" y="502.4" font-size="19.5" font-weight="bold" text-anchor="middle" >Glial</text>
<text x="1064.3" y="524.4" font-size="19.5" font-weight="bold" text-anchor="middle" >Subtyping</text>
<text x="1062.4" y="572.6" font-size="19.5" font-weight="bold" text-anchor="middle" >Neural cell</text>
<text x="1065.2" y="595.0" font-size="19.5" font-weight="bold" text-anchor="middle" >profiling</text>
<text x="1063.7" y="643.2" font-size="19.5" font-weight="bold" text-anchor="middle" >PD</text>
<text x="1063.7" y="666.0" font-size="19.5" font-weight="bold" text-anchor="middle" >Pathology</text>
<text transform="translate(1066.4,50.8) scale(0.93,1)" font-size="73.5" font-weight="bold">B</text>
</g>
<g>
<rect x="344.40" y="901.70" width="108.10" height="40.52" fill="#0b0b82" shape-rendering="crispEdges"/>
<rect x="668.70" y="942.22" width="108.10" height="40.52" fill="#c2c2e0" shape-rendering="crispEdges"/>
<rect x="452.50" y="982.74" width="108.10" height="40.52" fill="#5c5cad" shape-rendering="crispEdges"/>
<rect x="452.50" y="1023.26" width="108.10" height="40.52" fill="#8888c4" shape-rendering="crispEdges"/>
<rect x="776.80" y="1023.26" width="108.10" height="40.52" fill="#9696ca" shape-rendering="crispEdges"/>
<rect x="344.40" y="1063.79" width="108.10" height="40.52" fill="#050580" shape-rendering="crispEdges"/>
<rect x="560.60" y="1063.79" width="108.10" height="40.52" fill="#111186" shape-rendering="crispEdges"/>
<rect x="344.40" y="1104.31" width="108.10" height="40.52" fill="#050580" shape-rendering="crispEdges"/>
<rect x="344.40" y="1144.83" width="108.10" height="40.52" fill="#050580" shape-rendering="crispEdges"/>
<rect x="452.50" y="1185.35" width="108.10" height="40.52" fill="#e6e6f3" shape-rendering="crispEdges"/>
<rect x="560.60" y="1225.87" width="108.10" height="40.52" fill="#0b0b82" shape-rendering="crispEdges"/>
<rect x="776.80" y="1225.87" width="108.10" height="40.52" fill="#c6c6e3" shape-rendering="crispEdges"/>
<rect x="560.60" y="1266.39" width="108.10" height="40.52" fill="#8686c3" shape-rendering="crispEdges"/>
<rect x="560.60" y="1306.91" width="108.10" height="40.52" fill="#6c6cb6" shape-rendering="crispEdges"/>
<rect x="452.50" y="1347.44" width="108.10" height="40.52" fill="#242490" shape-rendering="crispEdges"/>
<rect x="560.60" y="1347.44" width="108.10" height="40.52" fill="#c6c6e3" shape-rendering="crispEdges"/>
<rect x="776.80" y="1347.44" width="108.10" height="40.52" fill="#8282c1" shape-rendering="crispEdges"/>
<rect x="560.60" y="1428.48" width="108.10" height="40.52" fill="#8282c1" shape-rendering="crispEdges"/>
<polygon points="384.1,922.9 407.1,922.9 395.6,905.9" fill="#47ada4"/><polygon points="388.5,920.6 402.8,920.6 395.6,910.0" fill="#fff"/>
<polygon points="706.9,943.3 729.9,943.3 718.4,960.3" fill="#c0e69d"/><polygon points="711.2,945.6 725.5,945.6 718.4,956.2" fill="#fff"/>
<polygon points="492.8,983.9 515.8,983.9 504.3,1000.9" fill="#c0e69d"/><polygon points="497.2,986.2 511.5,986.2 504.3,996.8" fill="#fff"/>
<polygon points="492.8,1041.0 515.8,1041.0 504.3,1024.0" fill="#47ada4"/><polygon points="497.2,1038.7 511.5,1038.7 504.3,1028.1" fill="#fff"/>
<polygon points="817.0,1041.2 840.0,1041.2 828.5,1024.2" fill="#47ada4"/><polygon points="821.4,1038.9 835.7,1038.9 828.5,1028.3" fill="#fff"/>
<polygon points="381.9,1082.0 404.9,1082.0 393.4,1065.0" fill="#47ada4"/><polygon points="386.3,1079.7 400.6,1079.7 393.4,1069.1" fill="#fff"/>
<polygon points="602.4,1082.0 625.4,1082.0 613.9,1065.0" fill="#47ada4"/><polygon points="606.7,1079.7 621.0,1079.7 613.9,1069.1" fill="#fff"/>
<polygon points="381.8,1122.1 404.8,1122.1 393.2,1105.1" fill="#47ada4"/><polygon points="386.1,1119.8 400.4,1119.8 393.2,1109.2" fill="#fff"/>
<polygon points="381.8,1162.2 404.8,1162.2 393.2,1145.2" fill="#47ada4"/><polygon points="386.1,1159.9 400.4,1159.9 393.2,1149.3" fill="#fff"/>
<polygon points="492.8,1202.0 515.8,1202.0 504.3,1185.0" fill="#47ada4"/><polygon points="497.2,1199.8 511.5,1199.8 504.3,1189.2" fill="#fff"/>
<polygon points="599.4,1225.7 622.4,1225.7 610.9,1242.7" fill="#c0e69d"/><polygon points="603.7,1228.0 618.0,1228.0 610.9,1238.6" fill="#fff"/>
<polygon points="818.4,1225.7 841.4,1225.7 829.9,1242.7" fill="#c0e69d"/><polygon points="822.8,1228.0 837.1,1228.0 829.9,1238.6" fill="#fff"/>
<polygon points="599.9,1267.1 622.9,1267.1 611.4,1284.1" fill="#c0e69d"/><polygon points="604.3,1269.4 618.6,1269.4 611.4,1280.0" fill="#fff"/>
<polygon points="599.9,1307.6 622.9,1307.6 611.4,1324.6" fill="#c0e69d"/><polygon points="604.3,1309.9 618.6,1309.9 611.4,1320.5" fill="#fff"/>
<polygon points="492.8,1346.7 515.8,1346.7 504.3,1363.7" fill="#c0e69d"/><polygon points="497.2,1349.0 511.5,1349.0 504.3,1359.6" fill="#fff"/>
<polygon points="598.8,1346.9 621.8,1346.9 610.2,1363.9" fill="#c0e69d"/><polygon points="603.1,1349.2 617.4,1349.2 610.2,1359.8" fill="#fff"/>
<polygon points="818.4,1346.9 841.4,1346.9 829.9,1363.9" fill="#c0e69d"/><polygon points="822.8,1349.2 837.1,1349.2 829.9,1359.8" fill="#fff"/>
<polygon points="598.8,1426.3 621.8,1426.3 610.2,1443.3" fill="#c0e69d"/><polygon points="603.1,1428.6 617.4,1428.6 610.2,1439.2" fill="#fff"/>
<rect x="344.4" y="902.2" width="540.5" height="567.5" fill="none" stroke="#000" stroke-width="4"/>
<line x1="328.9" y1="921.96" x2="344.4" y2="921.96" stroke="#000" stroke-width="3.6"/>
<text transform="translate(323.3,928.2) scale(1,1.045)" font-size="19.6" font-weight="bold" text-anchor="end">AB 42</text>
<line x1="328.9" y1="962.48" x2="344.4" y2="962.48" stroke="#000" stroke-width="3.6"/>
<text transform="translate(323.3,968.7) scale(1,1.045)" font-size="19.6" font-weight="bold" text-anchor="end">APP</text>
<line x1="328.9" y1="1003.00" x2="344.4" y2="1003.00" stroke="#000" stroke-width="3.6"/>
<text transform="translate(323.3,1009.2) scale(1,1.045)" font-size="19.6" font-weight="bold" text-anchor="end">NRGN</text>
<line x1="328.9" y1="1043.53" x2="344.4" y2="1043.53" stroke="#000" stroke-width="3.6"/>
<text transform="translate(323.3,1049.7) scale(1,1.045)" font-size="19.6" font-weight="bold" text-anchor="end">P. Tdp. 43</text>
<line x1="328.9" y1="1084.05" x2="344.4" y2="1084.05" stroke="#000" stroke-width="3.6"/>
<text transform="translate(323.3,1090.2) scale(1,1.045)" font-size="19.6" font-weight="bold" text-anchor="end">P. Tau S214</text>
<line x1="328.9" y1="1124.57" x2="344.4" y2="1124.57" stroke="#000" stroke-width="3.6"/>
<text transform="translate(323.3,1130.8) scale(1,1.045)" font-size="19.6" font-weight="bold" text-anchor="end">P. Tau S396</text>
<line x1="328.9" y1="1165.09" x2="344.4" y2="1165.09" stroke="#000" stroke-width="3.6"/>
<text transform="translate(323.3,1171.3) scale(1,1.045)" font-size="19.6" font-weight="bold" text-anchor="end">P. TauT231</text>
<line x1="328.9" y1="1205.61" x2="344.4" y2="1205.61" stroke="#000" stroke-width="3.6"/>
<text transform="translate(323.3,1211.8) scale(1,1.045)" font-size="19.6" font-weight="bold" text-anchor="end">S100B</text>
<line x1="328.9" y1="1246.13" x2="344.4" y2="1246.13" stroke="#000" stroke-width="3.6"/>
<text transform="translate(323.3,1252.3) scale(1,1.045)" font-size="19.6" font-weight="bold" text-anchor="end">SIRT2</text>
<line x1="328.9" y1="1286.65" x2="344.4" y2="1286.65" stroke="#000" stroke-width="3.6"/>
<text transform="translate(323.3,1292.9) scale(1,1.045)" font-size="19.6" font-weight="bold" text-anchor="end">CNPase</text>
<line x1="328.9" y1="1327.17" x2="344.4" y2="1327.17" stroke="#000" stroke-width="3.6"/>
<text transform="translate(323.3,1333.4) scale(1,1.045)" font-size="19.6" font-weight="bold" text-anchor="end">IBA1</text>
<line x1="328.9" y1="1367.70" x2="344.4" y2="1367.70" stroke="#000" stroke-width="3.6"/>
<text transform="translate(323.3,1373.9) scale(1,1.045)" font-size="19.6" font-weight="bold" text-anchor="end">NMDAR1</text>
<line x1="328.9" y1="1408.22" x2="344.4" y2="1408.22" stroke="#000" stroke-width="3.6"/>
<text transform="translate(323.3,1414.4) scale(1,1.045)" font-size="19.6" font-weight="bold" text-anchor="end">Tuj1</text>
<line x1="328.9" y1="1448.74" x2="344.4" y2="1448.74" stroke="#000" stroke-width="3.6"/>
<text transform="translate(323.3,1454.9) scale(1,1.045)" font-size="19.6" font-weight="bold" text-anchor="end">Park5</text>
<line x1="398.4" y1="1466.5" x2="398.4" y2="1484.7" stroke="#000" stroke-width="3.6"/>
<text transform="translate(406.8,1509.2) rotate(-45)" font-size="29" font-weight="bold" text-anchor="end" letter-spacing="0">AD</text>
<line x1="506.5" y1="1466.5" x2="506.5" y2="1484.7" stroke="#000" stroke-width="3.6"/>
<text transform="translate(517.0,1505.6) rotate(-45)" font-size="29" font-weight="bold" text-anchor="end" letter-spacing="-1.7">C9ORF72</text>
<line x1="614.6" y1="1466.5" x2="614.6" y2="1484.7" stroke="#000" stroke-width="3.6"/>
<text transform="translate(622.1,1508.0) rotate(-45)" font-size="29" font-weight="bold" text-anchor="end" letter-spacing="-1.9">MAPT</text>
<line x1="722.8" y1="1466.5" x2="722.8" y2="1484.7" stroke="#000" stroke-width="3.6"/>
<text transform="translate(731.6,1509.2) rotate(-45)" font-size="29" font-weight="bold" text-anchor="end" letter-spacing="-0.2">FTLD-TDP</text>
<line x1="830.8" y1="1466.5" x2="830.8" y2="1484.7" stroke="#000" stroke-width="3.6"/>
<text transform="translate(838.3,1509.7) rotate(-45)" font-size="29" font-weight="bold" text-anchor="end" letter-spacing="0">GRN</text>
<line x1="205.4" y1="892.1" x2="205.4" y2="1461.4" stroke="#000" stroke-width="6"/>
<line x1="202.4" y1="895.1" x2="234.6" y2="895.1" stroke="#000" stroke-width="6"/>
<line x1="202.4" y1="1181.7" x2="234.6" y2="1181.7" stroke="#000" stroke-width="6"/>
<line x1="202.4" y1="1253.9" x2="234.6" y2="1253.9" stroke="#000" stroke-width="6"/>
<line x1="202.4" y1="1339.5" x2="234.6" y2="1339.5" stroke="#000" stroke-width="6"/>
<line x1="202.4" y1="1415.9" x2="234.6" y2="1415.9" stroke="#000" stroke-width="6"/>
<line x1="202.4" y1="1458.4" x2="234.6" y2="1458.4" stroke="#000" stroke-width="6"/>
<rect x="929.4" y="902.2" width="44.8" height="565.9" fill="url(#cm)" stroke="#000" stroke-width="4"/>
<line x1="929.4" y1="1015.4" x2="937.4" y2="1015.4" stroke="#000" stroke-width="4"/>
<line x1="966.2" y1="1015.4" x2="974.2" y2="1015.4" stroke="#000" stroke-width="4"/>
<text transform="translate(989.7,1025.8) scale(0.87,1)" font-size="33">0.04</text>
<line x1="929.4" y1="1241.7" x2="937.4" y2="1241.7" stroke="#000" stroke-width="4"/>
<line x1="966.2" y1="1241.7" x2="974.2" y2="1241.7" stroke="#000" stroke-width="4"/>
<text transform="translate(989.7,1252.1) scale(0.87,1)" font-size="33">0.02</text>
<text transform="translate(989.7,1478.5) scale(0.87,1)" font-size="33">0</text>
<text x="989.0" y="920.6" font-size="27.2"><tspan font-style="italic">p</tspan> &gt; 0.05</text>
<text x="627.0" y="871.0" font-size="31" font-weight="bold" text-anchor="middle" >CORTICAL LAYER I</text>
<text x="335.5" y="892.6" font-size="23.15" font-weight="normal" text-anchor="start" >Expression relative to control: Increase</text>
<text x="764.0" y="892.6" font-size="23.15" font-weight="normal" text-anchor="start" >or Decrease</text>
<polygon points="737.2,893.2 760.0,893.2 748.6,876.9" fill="#47ada4"/><polygon points="741.2,891.1 756.0,891.1 748.6,880.6" fill="#fff"/>
<polygon points="891.2,878.9 913.4,878.9 902.3,895.1" fill="#c0e69d"/><polygon points="895.2,881.0 909.4,881.0 902.3,891.4" fill="#fff"/>
<text x="132.0" y="1040.5" font-size="19.2" font-weight="bold" text-anchor="middle" >AD</text>
<text x="134.8" y="1062.1" font-size="19.2" font-weight="bold" text-anchor="middle" >pathology</text>
<text x="131.8" y="1213.4" font-size="19.2" font-weight="bold" text-anchor="middle" >Autophagy &amp;</text>
<text x="131.8" y="1236.5" font-size="19.2" font-weight="bold" text-anchor="middle" >Inflammation</text>
<text x="135.0" y="1291.7" font-size="19.2" font-weight="bold" text-anchor="middle" >Glial</text>
<text x="135.4" y="1313.7" font-size="19.2" font-weight="bold" text-anchor="middle" >Subtyping</text>
<text x="134.0" y="1366.5" font-size="19.2" font-weight="bold" text-anchor="middle" >Neural cell</text>
<text x="137.0" y="1388.9" font-size="19.2" font-weight="bold" text-anchor="middle" >profiling</text>
<text x="144.3" y="1421.7" font-size="19.2" font-weight="bold" text-anchor="middle" >PD</text>
<text x="144.3" y="1444.9" font-size="19.2" font-weight="bold" text-anchor="middle" >pathology</text>
<text transform="translate(13.1,869.3) scale(0.906,1)" font-size="73.5" font-weight="bold">C</text>
</g>
<g>
<ellipse cx="1409.5" cy="1175.2" rx="267.6" ry="242.4" fill="#92d050" fill-opacity="0.35"/>
<ellipse cx="1620.8" cy="1181.5" rx="273.6" ry="243.5" fill="#92d050" fill-opacity="0.6"/>
<ellipse cx="1526" cy="1336.7" rx="313.2" ry="133.7" fill="#92d050" fill-opacity="0.28"/>
<clipPath id="vl"><ellipse cx="1409.5" cy="1175.2" rx="267.6" ry="242.4"/></clipPath>
<clipPath id="vr" clip-path="url(#vl)"><ellipse cx="1620.8" cy="1181.5" rx="273.6" ry="243.5"/></clipPath>
<ellipse cx="1526" cy="1336.7" rx="313.2" ry="133.7" fill="none" stroke="#fff" stroke-opacity="0.45" stroke-width="1.5" clip-path="url(#vr)"/>
<text transform="translate(1092.4,860.9) scale(0.93,1)" font-size="73.5" font-weight="bold">D</text>
<text x="1329.5" y="918.0" font-size="31" font-weight="bold" text-anchor="middle" >WHITE MATTER</text>
<text x="1711.7" y="919.0" font-size="31" font-weight="bold" text-anchor="middle" >CORTICAL LAYER II-V</text>
<text x="1532.0" y="1501.0" font-size="31" font-weight="bold" text-anchor="middle" >CORTICAL LAYER I</text>
<text x="1270.0" y="998.0" font-size="23.3" font-weight="normal" text-anchor="start" >ApoA1</text>
<text x="1270.0" y="1027.3" font-size="23.3" font-weight="normal" text-anchor="start" >BDNF</text>
<text x="1270.0" y="1058.9" font-size="23.3" font-weight="normal" text-anchor="start" >CD11b</text>
<text x="1270.0" y="1088.5" font-size="23.3" font-weight="normal" text-anchor="start" >FoxA2</text>
<text x="1270.0" y="1119.7" font-size="23.3" font-weight="normal" text-anchor="start" >Lef1</text>
<text x="1270.0" y="1149.3" font-size="23.3" font-weight="normal" text-anchor="start" >PSEN1</text>
<text x="1226.0" y="1176.1" font-size="23.3" font-weight="normal" text-anchor="start" >PTau S404</text>
<text x="1214.0" y="1204.2" font-size="23.3" font-weight="normal" text-anchor="start" >SNCA filmnt</text>
<text x="1419.5" y="1038.0" font-size="23.3" font-weight="normal" text-anchor="start" >Calbindin</text>
<text x="1419.5" y="1065.5" font-size="23.3" font-weight="normal" text-anchor="start" >FUS</text>
<text x="1419.5" y="1093.0" font-size="23.3" font-weight="normal" text-anchor="start" >MAP2</text>
<text x="1419.5" y="1121.0" font-size="23.3" font-weight="normal" text-anchor="start" >NEFL</text>
<text x="1419.5" y="1149.0" font-size="23.3" font-weight="normal" text-anchor="start" >Olig2</text>
<text x="1419.5" y="1176.0" font-size="23.3" font-weight="normal" text-anchor="start" >P2ry12</text>
<text x="1535.5" y="1038.0" font-size="23.3" font-weight="normal" text-anchor="start" >p53</text>
<text x="1535.5" y="1065.0" font-size="23.3" font-weight="normal" text-anchor="start" >Tau</text>
<text x="1535.5" y="1093.0" font-size="23.3" font-weight="normal" text-anchor="start" >TDP43</text>
<text x="1535.5" y="1120.0" font-size="23.3" font-weight="normal" text-anchor="start" >TMEM119</text>
<text x="1535.5" y="1148.0" font-size="23.3" font-weight="normal" text-anchor="start" >UBB</text>
<text x="1535.5" y="1176.0" font-size="23.3" font-weight="normal" text-anchor="start" >Tuj1</text>
<text x="1678.0" y="988.0" font-size="23.3" font-weight="normal" text-anchor="start" >BACE1</text>
<text x="1678.0" y="1019.0" font-size="23.3" font-weight="normal" text-anchor="start" >GPNMB</text>
<text x="1678.0" y="1050.0" font-size="23.3" font-weight="normal" text-anchor="start" >HIST. H3</text>
<text x="1678.0" y="1080.0" font-size="23.3" font-weight="normal" text-anchor="start" >IQGAP2</text>
<text x="1694.0" y="1111.0" font-size="23.3" font-weight="normal" text-anchor="start" >TH</text>
<text x="1694.0" y="1138.5" font-size="23.3" font-weight="normal" text-anchor="start" >vGlut1</text>
<text x="1694.0" y="1166.0" font-size="23.3" font-weight="normal" text-anchor="start" >Ki67</text>
<text x="1694.0" y="1193.5" font-size="23.3" font-weight="normal" text-anchor="start" >PINK1</text>
<text x="1694.0" y="1221.0" font-size="23.3" font-weight="normal" text-anchor="start" >S6</text>
<text x="1420.0" y="1233.5" font-size="23.3" font-weight="normal" text-anchor="start" >CNPase</text>
<text x="1420.0" y="1261.0" font-size="23.3" font-weight="normal" text-anchor="start" >A&#946; 42</text>
<text x="1420.0" y="1288.5" font-size="23.3" font-weight="normal" text-anchor="start" >IBA1</text>
<text x="1420.0" y="1316.0" font-size="23.3" font-weight="normal" text-anchor="start" >NMDAR1</text>
<text x="1420.0" y="1343.0" font-size="23.3" font-weight="normal" text-anchor="start" >NRGN</text>
<text x="1529.5" y="1237.0" font-size="23.3" font-weight="normal" text-anchor="start" >Park5</text>
<text x="1529.5" y="1264.0" font-size="23.3" font-weight="normal" text-anchor="start" >PTau S214</text>
<text x="1529.5" y="1292.0" font-size="23.3" font-weight="normal" text-anchor="start" >PTauT231</text>
<text x="1529.5" y="1319.0" font-size="23.3" font-weight="normal" text-anchor="start" >SIRT2</text>
<text x="1694.0" y="1289.0" font-size="23.3" font-weight="normal" text-anchor="start" >APP</text>
<text x="1694.0" y="1317.0" font-size="23.3" font-weight="normal" text-anchor="start" >PTau S396</text>
<text x="1694.0" y="1345.0" font-size="23.3" font-weight="normal" text-anchor="start" >PTdp. 43</text>
<text x="1472.0" y="1444.0" font-size="23.3" font-weight="normal" text-anchor="start" >S100B</text>
</g>
</svg></body></html>
